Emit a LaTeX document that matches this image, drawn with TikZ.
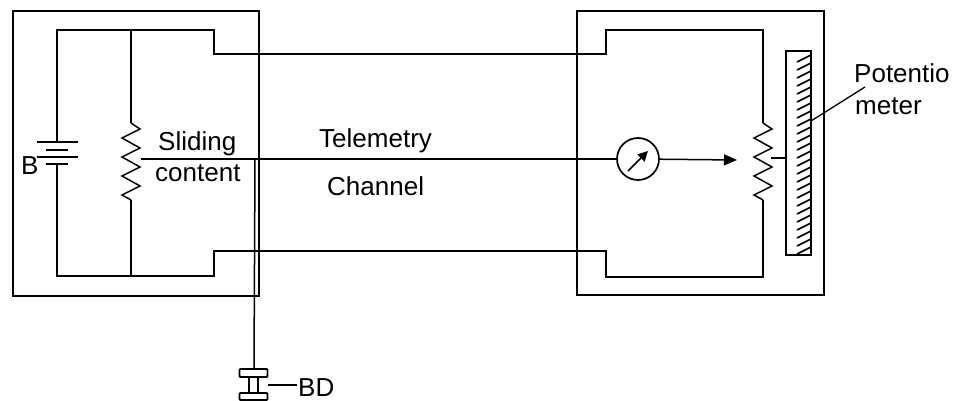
\documentclass[tikz,border=0pt]{standalone}
\usepackage{fontspec}
\setmainfont{Liberation Sans}
\usetikzlibrary{arrows.meta}
\tikzset{
  wire/.style={line width=1.5pt,black},
  box/.style={line width=2pt,black},
  lbl/.style={inner sep=0pt,font=\fontsize{26}{28}\selectfont,text=black},
  meter/.style={circle,draw,line width=1.7pt,minimum size=42pt,inner sep=0pt},
  arrowed/.style={wire,-{Triangle[length=13pt,width=11pt]}}
}
\begin{document}
\begin{tikzpicture}[x=1pt,y=-1pt]
\useasboundingbox (0,0) rectangle (961,401);
% outer boxes
\node[box,draw,minimum width=246pt,minimum height=285pt,inner sep=0pt] (LB) at (136,153.5) {};
\node[box,draw,minimum width=247pt,minimum height=284pt,inner sep=0pt] (RB) at (700.5,153) {};
% named points
\coordinate (LBT) at (57,142);
\coordinate (LBB) at (57,164);
\coordinate (LRT) at (131,123);
\coordinate (LRB) at (131,200);
\coordinate (RRT) at (763,123);
\coordinate (RRB) at (763,200);
\node[meter] (M) at (638,159) {};
% left loop + channel wires
\draw[wire] (LBT) -- (57,30) -- (214,30) -- (214,54) -- (606,54) -- (606,30) -- (763,30) -- (RRT);
\draw[wire] (LBB) -- (57,276) -- (214,276) -- (214,251) -- (606,251) -- (606,277) -- (763,277) -- (RRB);
\draw[wire] (131,30) -- (LRT);
\draw[wire] (LRB) -- (131,276);
% resistors
\draw[wire,line join=miter] (LRT) -- (140,129) -- (122,138) -- (140,148) -- (122,157) -- (140,167) -- (122,176) -- (140,186) -- (122,195) -- (LRB);
\draw[wire,line join=miter] (RRT) -- (772,129) -- (754,138) -- (772,148) -- (754,157) -- (772,167) -- (754,176) -- (772,186) -- (754,195) -- (RRB);
% battery
\draw[wire,line width=1.8pt] (37,142) -- (78,142);
\draw[wire,line width=2.6pt] (46,150) -- (68,150);
\draw[wire,line width=1.8pt] (37,157) -- (78,157);
\draw[wire,line width=2.6pt] (46,164) -- (68,164);
% telemetry line
\coordinate (W) at (141,159);
\draw[wire] (W) -- (M);
\coordinate (AT) at (737,160);
\draw[arrowed] (M) -- (AT);
\draw[wire,-{Triangle[length=10pt,width=10pt]}] (628,171) -- (648,151);
% potentiometer
\node[draw,line width=1.8pt,minimum width=25pt,minimum height=204pt,inner sep=0pt] (P) at (798.5,153) {};
\draw[wire] (771,158) -- (P.west |- 0,158);
\foreach \y in {57,65,...,249} \draw[line width=1.6pt] (797,\y+5) -- (811,\y-2);
% leader
\coordinate (LD) at (865,87);
\draw[line width=1.3pt] (811,121) -- (LD);
% vertical lead and BD
\coordinate (BDT) at (254,369);
\draw[wire] (255,159) -- (BDT);
\node[draw,line width=1.8pt,rounded corners=1pt,minimum width=28pt,minimum height=8pt,inner sep=0pt] (BD1) at (253.5,373) {};
\node[draw,line width=1.8pt,rounded corners=1pt,minimum width=28pt,minimum height=7pt,inner sep=0pt] (BD2) at (253.5,396.5) {};
\draw[wire] ([xshift=-4.5pt]BD1.south) -- ([xshift=-4.5pt]BD2.north);
\draw[wire] ([xshift=4.5pt]BD1.south) -- ([xshift=4.5pt]BD2.north);
\coordinate (BL) at (297,385);
\draw[line width=1.3pt] (268,385) -- (BL);
% labels
\node[lbl,anchor=base west] (tB) at (21,174) {B};
\node[lbl,anchor=base west] (tS) at (158,150) {Sliding};
\node[lbl,anchor=base west] (tC) at (155,181) {content};
\node[lbl,anchor=base west] (tT) at (319,148) {Telemetry};
\node[lbl,anchor=base west] (tH) at (327,195) {Channel};
\node[lbl,anchor=base west] (tP) at (854,83) {Potentio};
\node[lbl,anchor=base west] (tM) at (855,115) {meter};
\node[lbl,anchor=base west] (tBD) at (298,396) {BD};
\end{tikzpicture}
\end{document}
